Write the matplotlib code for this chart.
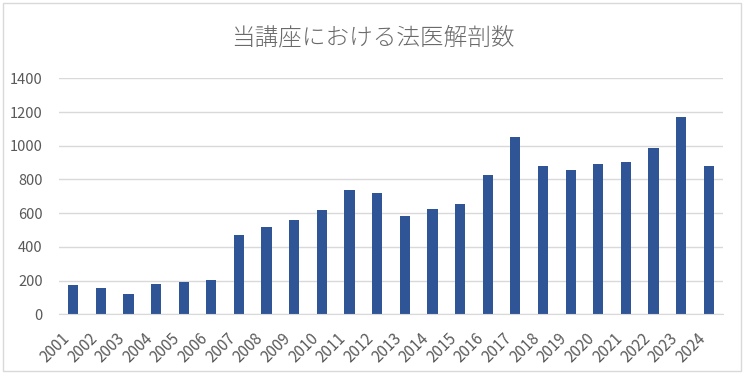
import matplotlib.pyplot as plt
import matplotlib.transforms as mtransforms
from matplotlib.patches import Rectangle

plt.rcParams['font.family'] = ['Noto Sans CJK JP', 'DejaVu Sans']

# data
years = [str(y) for y in range(2001, 2025)]
counts = [174, 156, 121, 180, 192, 204, 471, 519, 560, 620, 738, 721,
          584, 626, 655, 828, 1053, 881, 857, 893, 905, 988, 1172, 881]
title = "当講座における法医解剖数"
yticks = [0, 200, 400, 600, 800, 1000, 1200, 1400]

grey = "#595959"
grid = "#D9D9D9"
bar_color = "#2F5597"

fig = plt.figure(figsize=(7.45, 3.75), dpi=100)
ax = fig.add_axes([0.0796, 0.1619, 0.8904, 0.6293])

x = list(range(len(years)))
ax.bar(x, counts, width=0.37, color=bar_color, zorder=3)

ax.set_xlim(-0.5, len(years) - 0.5)
ax.set_ylim(0, 1400)
ax.set_yticks(yticks)
ax.set_yticklabels([str(t) for t in yticks], fontsize=10.5, color=grey)
ax.set_xticks(x)
ax.set_xticklabels(years, fontsize=11, color=grey, rotation=45, ha='right', va='top')
offset = mtransforms.ScaledTranslation(5 / 100, 0, fig.dpi_scale_trans)
for lbl in ax.get_xticklabels():
    lbl.set_transform(lbl.get_transform() + offset)

ax.tick_params(axis='both', length=0)
ax.tick_params(axis='y', pad=12)
ax.tick_params(axis='x', pad=11)
ax.grid(axis='y', color=grid, linewidth=1, zorder=0)
for side in ['top', 'right', 'left']:
    ax.spines[side].set_visible(False)
ax.spines['bottom'].set_color(grid)
ax.spines['bottom'].set_zorder(4)

fig.text(0.5, 0.899, title, ha='center', va='center', fontsize=17,
         color="#6a6a6a", fontweight='light')

# outer chart border
fig.patches.append(Rectangle((3 / 745, 4 / 375), 738 / 745, 368 / 375,
                             transform=fig.transFigure, fill=False,
                             edgecolor=grid, linewidth=1))

fig.savefig("out.png", dpi=100)
